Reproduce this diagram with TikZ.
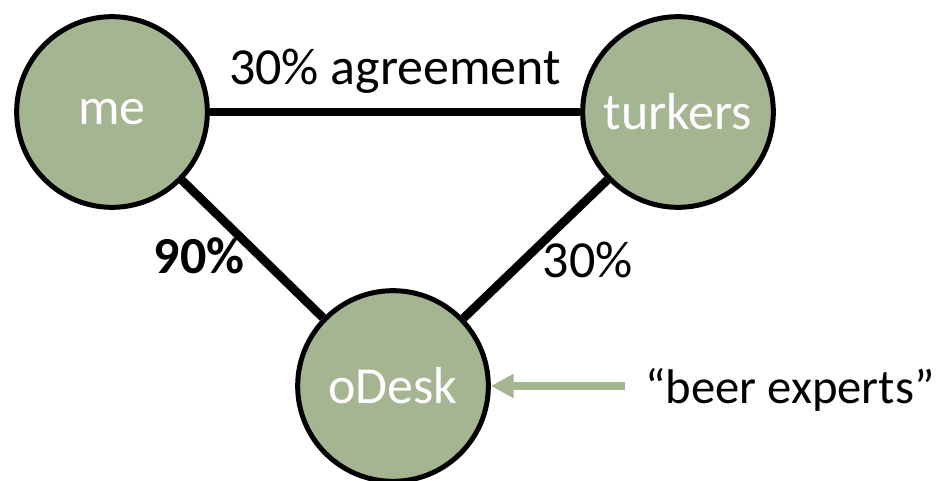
\documentclass[tikz,border=0pt]{standalone}
\usepackage{fontspec}
\setmainfont{Carlito}
\usetikzlibrary{arrows.meta, positioning, calc}
\definecolor{sage}{RGB}{165,181,146}

\begin{document}
\begin{tikzpicture}[
    x=0.75pt, y=-0.75pt,
    >=Stealth,
    every node/.style={font=\fontsize{39}{44}\selectfont},
    group/.style={circle, draw, line width=3.75pt, fill=sage, minimum size=143pt, inner sep=0pt, text=white},
    link/.style={line width=6.5pt},
    rate/.style={inner sep=0pt},
    pointer/.style={draw=sage, line width=6pt, -{Triangle[length=17pt, width=17pt]}},
    ]
    \useasboundingbox (0,0) rectangle (945,481);

    \node (ME) [group] at (112,112) {me};
    \node (TK) [group] at (678,112) {turkers};
    \node (OD) [group] at (393,386) {oDesk};

    % Agreement between groups
    \draw[link] (ME) -- (TK) node[rate, midway, above=11pt] {30\% agreement};
    \draw[link] (ME) -- (OD) node[rate, pos=0.55, left=8pt] {\textbf{90\%}};
    \draw[link] (TK) -- (OD) node[rate, pos=0.58, right=11pt] {30\%};

    % Label for oDesk
    \node (Q) [rate, anchor=base west, font=\fontsize{36.5}{42}\selectfont] at (645,403) {“beer experts”};
    \coordinate (QT) at ($(Q.west |- OD)+(-20,0)$);
    \draw[pointer] (QT) -- (OD);
\end{tikzpicture}
\end{document}
